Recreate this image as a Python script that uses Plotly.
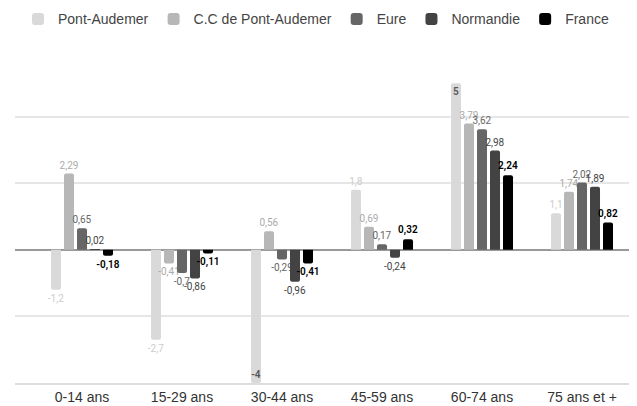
import plotly.graph_objects as go

categories = ["0-14 ans", "15-29 ans", "30-44 ans", "45-59 ans", "60-74 ans", "75 ans et +"]
series_names = ["Pont-Audemer", "C.C de Pont-Audemer", "Eure", "Normandie", "France"]
pont_audemer = [-1.2, -2.7, -4, 1.8, 5, 1.1]
cc_pont_audemer = [2.29, -0.41, 0.56, 0.69, 3.79, 1.74]
eure = [0.65, -0.7, -0.29, 0.17, 3.62, 2.02]
normandie = [0.02, -0.86, -0.96, -0.24, 2.98, 1.89]
france = [-0.18, -0.11, -0.41, 0.32, 2.24, 0.82]

series_values = [pont_audemer, cc_pont_audemer, eure, normandie, france]
bar_colors = ["#d9d9d9", "#b7b7b7", "#666666", "#434343", "#000000"]
label_colors = ["#cccccc", "#aaaaaa", "#666666", "#434343", "#000000"]
label_weights = ["normal", "normal", "normal", "normal", 600]
y_max = 5.7
y_min = -4


def fmt(v):
    return ("%g" % v).replace(".", ",")


fig = go.Figure()
for name, vals, col, lcol, w in zip(series_names, series_values, bar_colors, label_colors, label_weights):
    # labels that would not fit outside the plot area go inside the bar end
    positions = ["inside" if (v >= y_max - 0.8 or v <= y_min + 0.3) else "outside" for v in vals]
    fig.add_trace(go.Bar(
        name=name,
        x=categories,
        y=vals,
        marker=dict(color=col, line=dict(width=0), cornerradius=2),
        text=[fmt(v) for v in vals],
        textposition=positions,
        insidetextanchor="end",
        outsidetextfont=dict(family="Roboto", size=10, color=lcol, weight=w),
        insidetextfont=dict(family="Roboto", size=10, color="#555555", weight=600),
        textangle=0,
        constraintext="none",
        cliponaxis=False,
    ))

fig.update_layout(
    width=637,
    height=406,
    margin=dict(l=7, r=10, t=52, b=31),
    paper_bgcolor="white",
    plot_bgcolor="white",
    barmode="group",
    bargap=0.35,
    bargroupgap=0.23,
    showlegend=True,
    legend=dict(
        orientation="h",
        x=0.0157,
        xref="container",
        y=0.972,
        xanchor="left",
        yanchor="middle",
        yref="container",
        font=dict(family="Liberation Sans", size=14, color="#444444"),
        itemclick=False,
    ),
    font=dict(family="Liberation Sans", color="#333333"),
)

fig.update_xaxes(
    range=[-0.67, 5.53],
    showline=True,
    linecolor="#dddddd",
    linewidth=2,
    ticks="",
    tickfont=dict(family="Liberation Sans", size=14, color="#333333"),
    showgrid=False,
)
fig.update_yaxes(
    range=[y_min, y_max],
    dtick=2,
    tick0=0,
    showticklabels=False,
    showgrid=True,
    gridcolor="#e6e6e6",
    gridwidth=2,
    zeroline=True,
    zerolinecolor="#999999",
    zerolinewidth=1.5,
)

fig.write_html("out.html")
